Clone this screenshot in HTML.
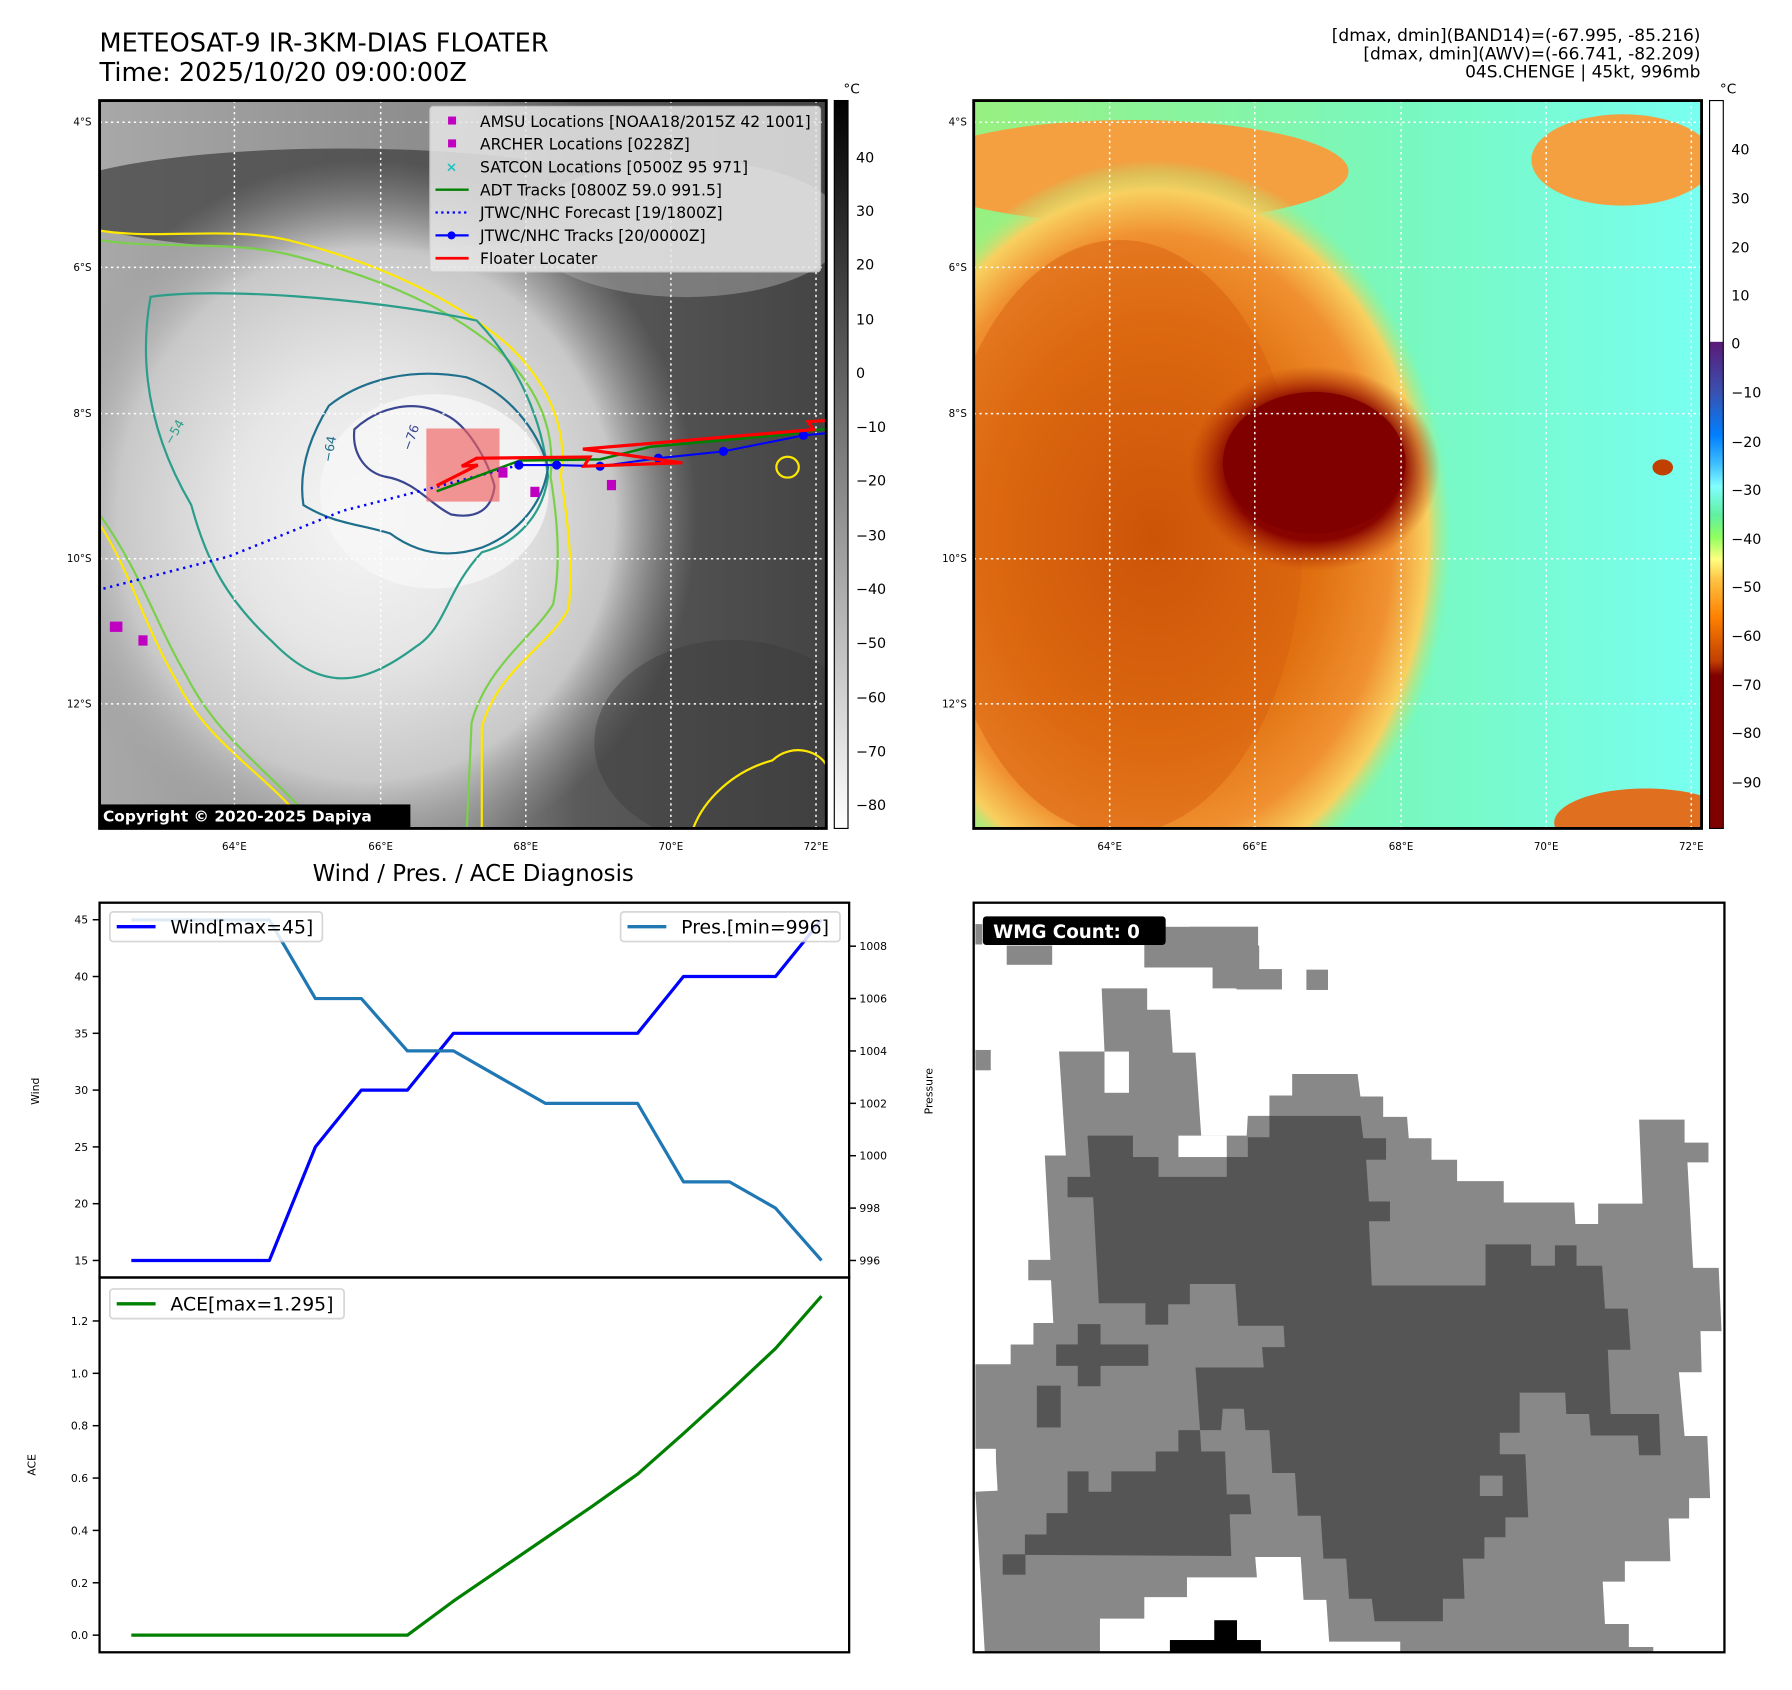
<!DOCTYPE html>
<html><head><meta charset="utf-8">
<style>
html,body{margin:0;padding:0;background:#fff;}
svg{display:block;font-family:"DejaVu Sans","Liberation Sans",sans-serif;}
</style></head>
<body>
<svg id="fig" width="1792" height="1690" viewBox="0 0 1568 1479" xmlns="http://www.w3.org/2000/svg">
<defs>
  <radialGradient id="stormL" cx="0.5" cy="0.5" r="0.5">
    <stop offset="0" stop-color="#f6f6f6"/>
    <stop offset="0.4" stop-color="#e6e6e6"/>
    <stop offset="0.75" stop-color="#c8c8c8"/>
    <stop offset="1" stop-color="#9a9a9a" stop-opacity="0"/>
  </radialGradient>
  <linearGradient id="bgL" x1="0" y1="0" x2="1" y2="0">
    <stop offset="0" stop-color="#a8a8a8"/>
    <stop offset="0.5" stop-color="#8a8a8a"/>
    <stop offset="0.66" stop-color="#5a5a5a"/>
    <stop offset="1" stop-color="#444"/>
  </linearGradient>
  <linearGradient id="cbL" x1="0" y1="1" x2="0" y2="0">
    <stop offset="0" stop-color="#ffffff"/>
    <stop offset="1" stop-color="#000000"/>
  </linearGradient>
  <linearGradient id="cbR" x1="0" y1="0" x2="0" y2="1">
    <stop offset="0" stop-color="#ffffff"/>
    <stop offset="0.331" stop-color="#ffffff"/>
    <stop offset="0.332" stop-color="#5a1a78"/>
    <stop offset="0.40" stop-color="#3a50b0"/>
    <stop offset="0.46" stop-color="#0080ff"/>
    <stop offset="0.50" stop-color="#40c0ff"/>
    <stop offset="0.53" stop-color="#80ffff"/>
    <stop offset="0.57" stop-color="#60f0a0"/>
    <stop offset="0.60" stop-color="#90ff60"/>
    <stop offset="0.63" stop-color="#ffff80"/>
    <stop offset="0.66" stop-color="#ffc040"/>
    <stop offset="0.71" stop-color="#ff8000"/>
    <stop offset="0.77" stop-color="#c04000"/>
    <stop offset="0.79" stop-color="#800000"/>
    <stop offset="1" stop-color="#800000"/>
  </linearGradient>
  <linearGradient id="bgR" x1="0" y1="0" x2="1" y2="0">
    <stop offset="0" stop-color="#98f080"/>
    <stop offset="0.6" stop-color="#78f8c0"/>
    <stop offset="1" stop-color="#78fff0"/>
  </linearGradient>
  <radialGradient id="orangeR" cx="0.5" cy="0.5" r="0.5">
    <stop offset="0" stop-color="#c04800"/>
    <stop offset="0.55" stop-color="#e07010"/>
    <stop offset="0.8" stop-color="#f09030"/>
    <stop offset="0.92" stop-color="#f8d060"/>
    <stop offset="1" stop-color="#a0f080" stop-opacity="0"/>
  </radialGradient>
  <radialGradient id="coreR" cx="0.5" cy="0.5" r="0.5">
    <stop offset="0" stop-color="#800000"/>
    <stop offset="0.7" stop-color="#880400"/>
    <stop offset="1" stop-color="#b03000" stop-opacity="0"/>
  </radialGradient>
  <clipPath id="clipL"><rect x="87" y="88" width="636" height="637"/></clipPath>
  <clipPath id="clipR"><rect x="852" y="88" width="637" height="637"/></clipPath>
  <clipPath id="clipW"><rect x="852" y="790" width="657" height="656"/></clipPath>
</defs>

<!-- titles -->
<text x="87" y="45" font-size="22.4">METEOSAT-9 IR-3KM-DIAS FLOATER</text>
<text x="87" y="71" font-size="22.4">Time: 2025/10/20 09:00:00Z</text>
<g font-size="14.9" text-anchor="end">
  <text x="1488" y="36">[dmax, dmin](BAND14)=(-67.995, -85.216)</text>
  <text x="1488" y="52">[dmax, dmin](AWV)=(-66.741, -82.209)</text>
  <text x="1488" y="68">04S.CHENGE | 45kt, 996mb</text>
</g>

<!-- LEFT MAP -->
<g clip-path="url(#clipL)">
  <rect x="87" y="88" width="636" height="637" fill="url(#bgL)"/>
  <ellipse cx="300" cy="175" rx="260" ry="45" fill="#3c3c3c" opacity="0.7"/>
  <ellipse cx="600" cy="200" rx="140" ry="60" fill="#999" opacity="0.6"/>
  <ellipse cx="320" cy="450" rx="290" ry="310" fill="url(#stormL)"/>
  <ellipse cx="380" cy="430" rx="100" ry="85" fill="#f6f6f6" opacity="0.8"/>
  <ellipse cx="640" cy="650" rx="120" ry="90" fill="#3a3a3a" opacity="0.4"/>
  <g transform="translate(87,88) scale(0.446,0.414) translate(-80,-5)" fill="none" stroke-width="2.2">
    <path vector-effect="non-scaling-stroke" stroke="#ffe800" d="M80,280 C200,300 330,270 450,300 C600,340 760,410 880,520 C960,600 1000,700 985,800 C1000,900 1010,1000 1000,1080 C960,1160 860,1210 830,1330 L830,1560 L500,1560 C430,1440 300,1380 230,1230 C170,1120 140,1000 80,900"/>
    <path vector-effect="non-scaling-stroke" stroke="#7ad04a" d="M80,300 C200,320 330,300 450,330 C600,370 750,430 860,530 C940,610 975,700 965,800 C980,900 985,990 970,1070 C930,1140 840,1200 810,1320 L800,1560 L520,1560 C440,1440 320,1370 250,1220 C190,1110 160,1000 80,880"/>
    <path vector-effect="non-scaling-stroke" stroke="#2a9e8a" d="M180,420 C300,400 600,420 820,470 C900,560 950,680 960,800 C950,880 900,940 830,960 C760,1040 760,1120 700,1160 C600,1240 520,1260 420,1150 C330,1060 290,980 260,860 C200,750 150,600 180,420 Z"/>
    <path vector-effect="non-scaling-stroke" stroke="#1f6f8c" d="M530,650 C600,590 700,570 800,590 C880,620 940,700 960,780 C950,860 900,920 830,950 C760,975 700,960 650,920 C590,900 540,900 480,860 C470,790 490,720 530,650 Z"/>
    <path vector-effect="non-scaling-stroke" stroke="#3b4690" d="M580,700 C620,660 690,630 760,670 C800,690 840,760 855,820 C850,870 820,890 770,880 C730,860 700,810 640,800 C600,790 575,750 580,700 Z"/>
    <path vector-effect="non-scaling-stroke" stroke="#ffe800" d="M1400,1400 C1440,1360 1500,1380 1510,1420 L1510,1560 L1240,1560 C1260,1480 1330,1420 1400,1400 Z"/>
    <ellipse vector-effect="non-scaling-stroke" cx="1430" cy="780" rx="22" ry="22" stroke="#ffe800"/>
  </g>
  <g font-size="11" fill="#3b4690">
    <text x="359" y="395" transform="rotate(-70 359 395)">−76</text>
    <text x="290" y="405" fill="#1f6f8c" transform="rotate(-80 290 405)">−64</text>
    <text x="150" y="390" fill="#2a9e8a" transform="rotate(-60 150 390)">−54</text>
  </g>
  <g stroke="#fff" stroke-width="1.3" stroke-dasharray="2,3">
    <line x1="205" y1="88" x2="205" y2="725"/><line x1="333" y1="88" x2="333" y2="725"/>
    <line x1="460" y1="88" x2="460" y2="725"/><line x1="587" y1="88" x2="587" y2="725"/>
    <line x1="714" y1="88" x2="714" y2="725"/>
    <line x1="87" y1="107" x2="723" y2="107"/><line x1="87" y1="234" x2="723" y2="234"/>
    <line x1="87" y1="362" x2="723" y2="362"/><line x1="87" y1="489" x2="723" y2="489"/>
    <line x1="87" y1="616" x2="723" y2="616"/>
  </g>
  <rect x="373" y="375" width="64" height="64" fill="#f06060" opacity="0.65"/>
  <polyline points="454,407 382,426 300,447 200,487 87,516" fill="none" stroke="#0000ff" stroke-width="2.2" stroke-dasharray="2,4"/>
  <polyline points="382,430 455,403 525,402 569,391 691,380 724,375" fill="none" stroke="#008000" stroke-width="2.2"/>
  <polyline points="454,407 487,407 525,408 576,401 633,395 703,381 724,379" fill="none" stroke="#0000ff" stroke-width="1.8"/>
  <g fill="#0000ff">
    <circle cx="454" cy="407" r="4"/><circle cx="487" cy="407" r="4"/><circle cx="525" cy="408" r="4"/>
    <circle cx="576" cy="401" r="4"/><circle cx="633" cy="395" r="4"/><circle cx="703" cy="381" r="4"/>
  </g>
  <polyline points="382,425 418,407 404,408 417,401 516,400 511,408 597,405 510,393 712,376 707,369 724,368" fill="none" stroke="#ff0000" stroke-width="2.8"/>
  <g fill="#c000c0">
    <rect x="96" y="544" width="11" height="9"/><rect x="121" y="556" width="8" height="9"/>
    <rect x="436" y="409" width="8" height="9"/><rect x="464" y="426" width="8" height="9"/>
    <rect x="531" y="420" width="8" height="9"/>
  </g>
  <!-- legend -->
  <g>
    <rect x="376" y="93" width="342" height="145" rx="3" fill="#e8e8e8" opacity="0.85" stroke="#ccc"/>
    <g font-size="13.6" fill="#000">
      <rect x="392" y="102" width="7" height="7" fill="#c000c0"/><text x="420" y="111">AMSU Locations [NOAA18/2015Z 42 1001]</text>
      <rect x="392" y="122" width="7" height="7" fill="#c000c0"/><text x="420" y="131">ARCHER Locations [0228Z]</text>
      <text x="390" y="150" fill="#20c0c0" font-size="12" font-weight="bold">×</text><text x="420" y="151">SATCON Locations [0500Z 95 971]</text>
      <line x1="381" y1="166" x2="410" y2="166" stroke="#008000" stroke-width="2"/><text x="420" y="171">ADT Tracks [0800Z 59.0 991.5]</text>
      <line x1="381" y1="186" x2="410" y2="186" stroke="#0000ff" stroke-width="2" stroke-dasharray="2,3"/><text x="420" y="191">JTWC/NHC Forecast [19/1800Z]</text>
      <line x1="381" y1="206" x2="410" y2="206" stroke="#0000ff" stroke-width="2"/><circle cx="395" cy="206" r="3.5" fill="#0000ff"/><text x="420" y="211">JTWC/NHC Tracks [20/0000Z]</text>
      <line x1="381" y1="226" x2="410" y2="226" stroke="#ff0000" stroke-width="2.4"/><text x="420" y="231">Floater Locater</text>
    </g>
  </g>
  <rect x="87" y="704" width="272" height="21" fill="#000"/>
  <text x="90" y="719" font-size="13.5" font-weight="bold" fill="#fff">Copyright © 2020-2025 Dapiya</text>
</g>
<rect x="87" y="88" width="636" height="637" fill="none" stroke="#000" stroke-width="2.5"/>
<g font-size="9" fill="#000">
  <g text-anchor="end"><text x="80" y="110">4°S</text><text x="80" y="237">6°S</text><text x="80" y="365">8°S</text><text x="80" y="492">10°S</text><text x="80" y="619">12°S</text></g>
  <g text-anchor="middle"><text x="205" y="744">64°E</text><text x="333" y="744">66°E</text><text x="460" y="744">68°E</text><text x="587" y="744">70°E</text><text x="714" y="744">72°E</text></g>
</g>
<g>
  <rect x="730" y="88" width="12" height="637" fill="url(#cbL)" stroke="#000" stroke-width="1"/>
  <text x="738" y="82" font-size="12">°C</text>
  <g font-size="12.5" fill="#000">
    <text x="749" y="142">40</text><text x="749" y="189">30</text><text x="749" y="236">20</text><text x="749" y="284">10</text>
    <text x="749" y="331">0</text><text x="749" y="378">−10</text><text x="749" y="425">−20</text><text x="749" y="473">−30</text>
    <text x="749" y="520">−40</text><text x="749" y="567">−50</text><text x="749" y="615">−60</text><text x="749" y="662">−70</text>
    <text x="749" y="709">−80</text>
  </g>
</g>

<!-- RIGHT MAP -->
<g clip-path="url(#clipR)">
  <rect x="852" y="88" width="637" height="637" fill="url(#bgR)"/>
  <ellipse cx="990" cy="150" rx="190" ry="45" fill="#f4a040"/>
  <ellipse cx="1420" cy="140" rx="80" ry="40" fill="#f4a040"/>
  <ellipse cx="1010" cy="470" rx="260" ry="330" fill="url(#orangeR)"/>
  <ellipse cx="980" cy="470" rx="160" ry="260" fill="#d86010" opacity="0.5"/>
  <ellipse cx="1150" cy="410" rx="110" ry="90" fill="url(#coreR)"/>
  <ellipse cx="1150" cy="405" rx="80" ry="62" fill="#800000"/>
  <ellipse cx="1440" cy="720" rx="80" ry="30" fill="#e07020"/>
  <ellipse cx="1455" cy="409" rx="9" ry="7" fill="#c04000"/>
  <g stroke="#fff" stroke-width="1.3" stroke-dasharray="2,3">
    <line x1="971" y1="88" x2="971" y2="725"/><line x1="1098" y1="88" x2="1098" y2="725"/>
    <line x1="1226" y1="88" x2="1226" y2="725"/><line x1="1353" y1="88" x2="1353" y2="725"/>
    <line x1="1480" y1="88" x2="1480" y2="725"/>
    <line x1="852" y1="107" x2="1489" y2="107"/><line x1="852" y1="234" x2="1489" y2="234"/>
    <line x1="852" y1="362" x2="1489" y2="362"/><line x1="852" y1="489" x2="1489" y2="489"/>
    <line x1="852" y1="616" x2="1489" y2="616"/>
  </g>
</g>
<rect x="852" y="88" width="637" height="637" fill="none" stroke="#000" stroke-width="2.5"/>
<g font-size="9" fill="#000">
  <g text-anchor="end"><text x="846" y="110">4°S</text><text x="846" y="237">6°S</text><text x="846" y="365">8°S</text><text x="846" y="492">10°S</text><text x="846" y="619">12°S</text></g>
  <g text-anchor="middle"><text x="971" y="744">64°E</text><text x="1098" y="744">66°E</text><text x="1226" y="744">68°E</text><text x="1353" y="744">70°E</text><text x="1480" y="744">72°E</text></g>
</g>
<g>
  <rect x="1496" y="88" width="12" height="637" fill="url(#cbR)" stroke="#000" stroke-width="1"/>
  <text x="1505" y="82" font-size="12">°C</text>
  <g font-size="12.5" fill="#000">
    <text x="1515" y="135">40</text><text x="1515" y="178">30</text><text x="1515" y="221">20</text><text x="1515" y="263">10</text>
    <text x="1515" y="305">0</text><text x="1515" y="348">−10</text><text x="1515" y="391">−20</text><text x="1515" y="433">−30</text>
    <text x="1515" y="476">−40</text><text x="1515" y="518">−50</text><text x="1515" y="561">−60</text><text x="1515" y="604">−70</text>
    <text x="1515" y="646">−80</text><text x="1515" y="689">−90</text>
  </g>
</g>

<!-- DIAGNOSIS CHART -->
<text x="414" y="771" font-size="20" text-anchor="middle">Wind / Pres. / ACE Diagnosis</text>
<g id="diag"></g>

<!-- WMG PANEL -->
<g clip-path="url(#clipW)">
  <rect x="852" y="790" width="657" height="656" fill="#fff"/>
  <g transform="translate(852,790) scale(0.4977,0.4686) translate(-130,-100)">
    <g fill="#888">
      <path d="M280,378 L360,378 L355,260 L435,260 L435,300 L475,300 L480,380 L520,380 L530,535 L610,535 L612,498 L650,498 L650,460 L690,460 L690,420 L805,420 L810,462 L850,462 L850,500 L892,500 L895,540 L935,540 L935,580 L980,580 L980,620 L1062,620 L1062,660 L1186,660 L1188,700 L1228,700 L1228,662 L1306,662 L1300,505 L1380,505 L1380,548 L1422,548 L1422,585 L1385,585 L1395,782 L1440,782 L1445,900 L1408,900 L1410,977 L1370,977 L1380,1096 L1420,1096 L1425,1212 L1388,1212 L1388,1250 L1352,1250 L1355,1330 L1275,1330 L1275,1368 L1236,1368 L1240,1447 L1282,1447 L1282,1490 L1325,1490 L1325,1510 L880,1510 L880,1480 L755,1480 L750,1402 L710,1402 L705,1322 L625,1322 L628,1360 L505,1360 L505,1397 L430,1397 L430,1437 L352,1437 L352,1510 L150,1510 L133,1200 L172,1198 L168,1120 L133,1120 L133,962 L195,962 L195,925 L235,925 L235,885 L270,885 L266,805 L226,805 L226,767 L265,767 L255,572 L292,572 Z"/>
      <rect x="430" y="145" width="200" height="76"/><rect x="510" y="145" width="120" height="40"/>
      <rect x="550" y="180" width="82" height="80"/><rect x="592" y="224" width="80" height="38"/>
      <rect x="715" y="225" width="38" height="38"/><rect x="188" y="180" width="80" height="36"/>
      <rect x="133" y="140" width="12" height="38"/><rect x="133" y="375" width="27" height="38"/>
    </g>
    <g fill="#fff">
      <rect x="360" y="378" width="43" height="77"/><rect x="490" y="535" width="85" height="40"/>
      <rect x="133" y="1120" width="36" height="78"/>
    </g>
    <g fill="#555">
      <path d="M330,535 L410,535 L410,575 L455,575 L455,612 L575,612 L575,575 L612,575 L612,538 L650,538 L650,498 L810,498 L815,540 L855,540 L855,580 L820,580 L825,658 L862,658 L862,695 L825,695 L830,815 L1030,815 L1030,738 L1110,738 L1110,778 L1152,778 L1152,740 L1190,740 L1190,778 L1235,778 L1240,858 L1280,858 L1285,935 L1245,935 L1250,1055 L1335,1055 L1338,1132 L1300,1132 L1298,1095 L1215,1095 L1212,1055 L1172,1055 L1170,1015 L1090,1015 L1090,1090 L1055,1090 L1055,1130 L1100,1130 L1105,1248 L1065,1248 L1065,1285 L1028,1285 L1028,1325 L990,1325 L993,1400 L955,1400 L955,1442 L835,1442 L830,1400 L790,1400 L785,1325 L745,1325 L740,1245 L700,1245 L695,1165 L655,1165 L650,1085 L608,1085 L605,1045 L568,1045 L565,1085 L528,1085 L520,968 L640,968 L637,930 L677,930 L675,890 L595,890 L590,812 L510,812 L510,850 L472,850 L472,888 L432,888 L432,848 L350,848 L340,650 L295,650 L295,612 L335,612 Z"/>
      <path d="M295,1162 L332,1162 L332,1200 L372,1200 L372,1162 L450,1162 L450,1125 L490,1125 L490,1085 L528,1085 L530,1125 L572,1125 L575,1205 L615,1205 L618,1242 L580,1242 L583,1320 L220,1318 L220,1280 L258,1280 L258,1240 L295,1240 Z"/>
      <rect x="275" y="925" width="162" height="40"/><rect x="313" y="887" width="40" height="116"/>
      <rect x="241" y="1002" width="42" height="78"/><rect x="181" y="1317" width="40" height="38"/>
    </g>
    <rect x="1020" y="1170" width="40" height="38" fill="#888"/>
    <g fill="#000"><rect x="475" y="1477" width="160" height="30"/><rect x="553" y="1440" width="40" height="60"/></g>
  </g>
  <rect x="860" y="802" width="160" height="25" rx="3" fill="#000"/>
  <text x="869" y="821" font-size="16" font-weight="bold" fill="#fff">WMG Count: 0</text>
</g>
<rect x="852" y="790" width="657" height="656" fill="none" stroke="#000" stroke-width="2"/>
</svg>

<script>
const categories = [0,1,2,3,4,5,6,7,8,9,10,11,12,13,14,15];
const windValues = [15,15,15,15,25,30,30,35,35,35,35,35,40,40,40,45];
const presValues = [1009,1009,1009,1009,1006,1006,1004,1004,1003,1002,1002,1002,999,999,998,996];
const aceValues = [0,0,0,0,0,0,0,0.13,0.25,0.37,0.49,0.615,0.77,0.93,1.095,1.295];
const windTicks = [15,20,25,30,35,40,45];
const presTicks = [996,998,1000,1002,1004,1006,1008];
const aceTicks = [0.0,0.2,0.4,0.6,0.8,1.0,1.2];

const NS = 'http://www.w3.org/2000/svg';
const L = 87, R = 743, T1 = 790, B1 = 1118, T2 = 1118, B2 = 1446;
const xs = i => L + (i - (-0.69)) / (15.6 + 0.69) * (R - L);
const yWind = v => B1 - (v - 13.5) / (46.5 - 13.5) * (B1 - T1);
const yPres = v => B1 - (v - 995.35) / (1009.66 - 995.35) * (B1 - T1);
const yAce = v => B2 - (v - (-0.0655)) / (1.366 + 0.0655) * (B2 - T2);
const g = document.getElementById('diag');

function mk(tag, attrs, parent) {
  const e = document.createElementNS(NS, tag);
  for (const k in attrs) e.setAttribute(k, attrs[k]);
  (parent || g).appendChild(e);
  return e;
}
function line(vals, yf, color, w, name) {
  const pts = vals.map((v, i) => xs(categories[i]).toFixed(1) + ',' + yf(v).toFixed(1)).join(' ');
  const p = mk('polyline', {points: pts, fill: 'none', stroke: color, 'stroke-width': w, 'stroke-linejoin': 'round'});
  
  
}
function ticks(arr, yf, side, fmt, name) {
  arr.forEach(t => {
    const y = yf(t);
    const x0 = side === 'left' ? L : R;
    const d = side === 'left' ? -6 : 6;
    mk('line', {x1: x0, y1: y, x2: x0 + d, y2: y, stroke: '#000', 'stroke-width': 1.3});
    const tx = mk('text', {x: side === 'left' ? L - 10 : R + 9, y: y + 3.5, 'font-size': 9.5, 'text-anchor': side === 'left' ? 'end' : 'start'});
    tx.textContent = fmt(t);
    
    
  });
}
ticks(windTicks, yWind, 'left', t => String(t), 'wind-tick-label');
ticks(presTicks, yPres, 'right', t => String(t), 'pressure-tick-label');
ticks(aceTicks, yAce, 'left', t => t.toFixed(1), 'ace-tick-label');

line(windValues, yWind, '#0000ff', 2.8, 'wind-line');
line(presValues, yPres, '#1f77b4', 2.8, 'pressure-line');
line(aceValues, yAce, '#008000', 2.8, 'ace-line');

const f1 = mk('rect', {x: L, y: T1, width: R - L, height: B1 - T1, fill: 'none', stroke: '#000', 'stroke-width': 2});


const f2 = mk('rect', {x: L, y: T2, width: R - L, height: B2 - T2, fill: 'none', stroke: '#000', 'stroke-width': 2});



function vtitle(x, y, txt, name) {
  const t = mk('text', {x: x, y: y, 'font-size': 9.5, 'text-anchor': 'middle', transform: 'rotate(-90 ' + x + ' ' + y + ')'});
  t.textContent = txt;
  
  
}
vtitle(34, 955, 'Wind', 'wind-axis-title');
vtitle(816, 955, 'Pressure', 'pressure-axis-title');
vtitle(31, 1282, 'ACE', 'ace-axis-title');

function legend(x, y, w, color, txt, name) {
  const grp = mk('g', {});
  
  
  mk('rect', {x: x, y: y, width: w, height: 26, rx: 3, fill: '#fff', opacity: 0.85, stroke: '#d0d0d0', 'stroke-width': 1.5}, grp);
  mk('line', {x1: x + 6, y1: y + 13, x2: x + 40, y2: y + 13, stroke: color, 'stroke-width': 3}, grp);
  const t = mk('text', {x: x + 53, y: y + 19, 'font-size': 16.5}, grp);
  t.textContent = txt;
}
legend(96, 798, 186, '#0000ff', 'Wind[max=45]', 'wind-legend');
legend(543, 798, 192, '#1f77b4', 'Pres.[min=996]', 'pressure-legend');
legend(96, 1128, 205, '#008000', 'ACE[max=1.295]', 'ace-legend');
</script>
</body></html>
